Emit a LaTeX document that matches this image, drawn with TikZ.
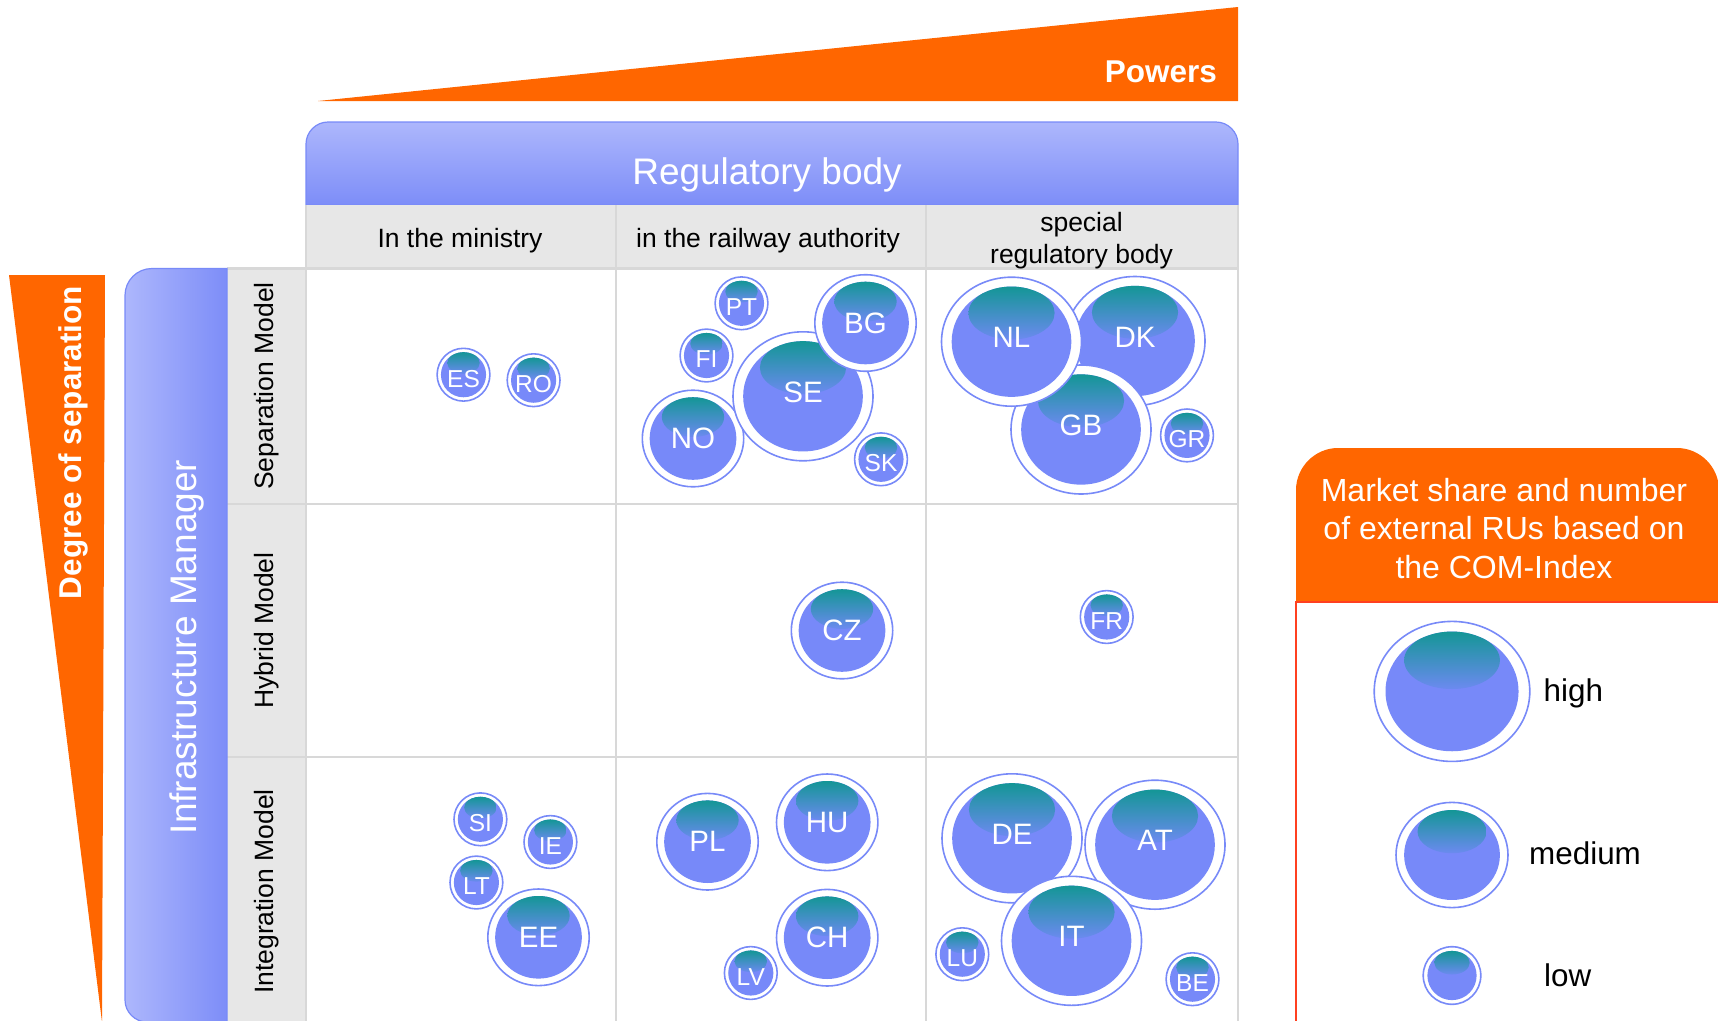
\documentclass[tikz,border=0pt]{standalone}
\usepackage{fontspec}
\setmainfont{Liberation Sans}
\usetikzlibrary{shapes.geometric}
\definecolor{orng}{RGB}{255,102,0}
\definecolor{lgred}{RGB}{255,64,32}
\definecolor{hdlight}{RGB}{173,183,252}
\definecolor{hddark}{RGB}{125,141,248}
\definecolor{bubedge}{RGB}{120,138,248}
\definecolor{bubfill}{RGB}{119,137,249}
\definecolor{tealtop}{RGB}{20,150,150}
\definecolor{hlbot}{RGB}{108,138,240}
\definecolor{cellgray}{RGB}{231,231,231}
\definecolor{gridgray}{RGB}{216,216,216}

\tikzset{
 bubring/.style={ellipse, draw=bubedge, fill=white, line width=1.6pt, inner sep=0pt, outer sep=0pt},
 biglab/.style={text=white, font=\fontsize{29.5}{30}\selectfont, inner sep=0pt, yshift=4pt},
 midlab/.style={text=white, font=\fontsize{29.5}{30}\selectfont, inner sep=0pt, yshift=0pt},
 smalllab/.style={text=white, font=\fontsize{24.5}{25}\selectfont, inner sep=0pt, yshift=-4pt},
 hdrtext/.style={text=black, font=\fontsize{26.5}{30}\selectfont, inner sep=0pt, anchor=base},
 rowtext/.style={text=black, font=\fontsize{26.5}{30}\selectfont, inner sep=0pt, rotate=90},
 titletext/.style={text=white, font=\fontsize{37}{40}\selectfont, inner sep=0pt},
 boldtext/.style={text=white, font=\bfseries\fontsize{31.5}{34}\selectfont, inner sep=0pt},
 legtext/.style={text=white, font=\fontsize{32}{38}\selectfont, inner sep=0pt},
 leglab/.style={text=black, font=\fontsize{31.4}{34}\selectfont, inner sep=0pt, anchor=base west},
 gridline/.style={draw=gridgray, line width=2.5pt},
}

\newcommand\mybubshape[5]{%
  \pgfmathsetmacro\irx{0.855*(#4)}%
  \pgfmathsetmacro\iry{0.855*(#5)}%
  \pgfmathsetmacro\hrx{0.72*\irx}%
  \pgfmathsetmacro\hry{0.48*\iry}%
  \pgfmathsetmacro\hy{(#3)-\iry+\hry}%
  \node[bubring, minimum width={2*(#4)*1pt}, minimum height={2*(#5)*1pt}] (#1) at (#2,#3) {};
  \fill[bubfill] (#2,#3) ellipse [x radius=\irx pt, y radius=\iry pt];
  \begin{scope}
    \clip (#2,#3) ellipse [x radius=\irx pt, y radius=\iry pt];
    \shade[top color=tealtop, bottom color=hlbot] (#2,\hy) ellipse [x radius=\hrx pt, y radius=\hry pt];
  \end{scope}
}
\newcommand\mybubble[7]{%
  \mybubshape{#1}{#2}{#3}{#4}{#5}%
  \node[#7] (#1-t) at (#2,#3) {#6};
}

\begin{document}
\begin{tikzpicture}[x=1pt,y=-1pt]
\useasboundingbox (0,0) rectangle (1718,1020);
\clip (0,0) rectangle (1718,1020);

% Powers
\fill[orng] (318,101) -- (1238,7) -- (1238,101) -- cycle;
\node[boldtext, anchor=base east] (powers) at (1217,82.5) {Powers};

% Degree of separation
\fill[orng] (9,275) -- (105,275) -- (102,1022) -- cycle;
\node[boldtext, rotate=90] (degree) at (73.8,442.5) {Degree of separation};

% Regulatory body header
\shadedraw[top color=hdlight, bottom color=hddark, draw=bubedge, line width=1.2pt]
 (306,205) -- (306,144) .. controls (306,132) and (316,122) .. (328,122) -- (1216,122)
 .. controls (1228,122) and (1238,132) .. (1238,144) -- (1238,205) -- cycle;
\node[titletext, anchor=base] (regbody) at (767,184) {Regulatory body};

% header cells and row header cells
\fill[cellgray] (306,205) rectangle (1238,268.5);
\fill[cellgray] (227,268.5) rectangle (306,1022);

% grid
\draw[gridline] (306,205) -- (306,1022);
\draw[gridline] (616,205) -- (616,1022);
\draw[gridline] (926,205) -- (926,1022);
\draw[gridline] (1238,205) -- (1238,1022);
\draw[gridline] (227,268.5) -- (1238,268.5);
\draw[gridline] (227,504) -- (1238,504);
\draw[gridline] (227,757) -- (1238,757);

% column headers
\node[hdrtext] (colmin) at (460,247) {In the ministry};
\node[hdrtext] (colrail) at (768,247) {in the railway authority};
\node[hdrtext] (colspec1) at (1081.5,231) {special};
\node[hdrtext] (colspec2) at (1081.5,263) {regulatory body};

% row headers
\node[rowtext] (rsep) at (267,386) {Separation Model};
\node[rowtext] (rhyb) at (267,630.5) {Hybrid Model};
\node[rowtext] (rint) at (267,891.5) {Integration Model};

% Infrastructure manager band
\shadedraw[left color=hdlight, right color=hddark, draw=bubedge, line width=1.2pt]
 (227,268.5) -- (152,268.5) .. controls (137,268.5) and (125,280.5) .. (125,295.5)
 -- (125,1000) .. controls (125,1012) and (135,1022) .. (147,1022) -- (227,1022) -- cycle;
\node[titletext, rotate=90] (infra) at (186.7,647) {Infrastructure Manager};

% sizes
\def\BX{70}\def\BY{64.5}\def\MX{50.7}\def\MY{48.3}\def\SR{26.4}

% Separation model
\mybubble{es}{463.5}{374.7}{\SR}{\SR}{ES}{smalllab}
\mybubble{ro}{533.6}{380.2}{\SR}{\SR}{RO}{smalllab}
\mybubble{pt}{741.5}{303.3}{\SR}{\SR}{PT}{smalllab}
\mybubble{fi}{706.5}{355.5}{\SR}{\SR}{FI}{smalllab}
\mybubble{no}{693}{438.5}{\MX}{\MY}{NO}{midlab}
\mybubble{se}{803}{396.3}{\BX}{\BY}{SE}{biglab}
\mybubble{bg}{865.5}{323}{\MX}{\MY}{BG}{midlab}
\mybubble{sk}{881}{459.3}{\SR}{\SR}{SK}{smalllab}
\mybubble{dk}{1135}{341}{\BX}{\BY}{DK}{biglab}
\mybubble{gb}{1081}{429.5}{\BX}{\BY}{GB}{biglab}
\mybubble{nl}{1011.5}{341.7}{\BX}{\BY}{NL}{biglab}
\mybubble{gr}{1187}{435.4}{\SR}{\SR}{GR}{smalllab}

% Hybrid model
\mybubble{cz}{842}{630.5}{\MX}{\MY}{CZ}{midlab}
\mybubble{fr}{1106.7}{617}{\SR}{\SR}{FR}{smalllab}

% Integration model
\mybubble{si}{480.4}{819.3}{\SR}{\SR}{SI}{smalllab}
\mybubble{ie}{550.4}{842}{\SR}{\SR}{IE}{smalllab}
\mybubble{lt}{476.4}{882.5}{\SR}{\SR}{LT}{smalllab}
\mybubble{ee}{538.5}{937.3}{\MX}{\MY}{EE}{midlab}
\mybubble{pl}{707.5}{841.7}{\MX}{\MY}{PL}{midlab}
\mybubble{hu}{827.2}{822.3}{\MX}{\MY}{HU}{midlab}
\mybubble{ch}{827.2}{937.7}{\MX}{\MY}{CH}{midlab}
\mybubble{lv}{750.8}{973}{\SR}{\SR}{LV}{smalllab}
\mybubble{de}{1012}{838.3}{\BX}{\BY}{DE}{biglab}
\mybubble{at}{1155}{844.7}{\BX}{\BY}{AT}{biglab}
\mybubble{it}{1071.5}{940.8}{\BX}{\BY}{IT}{biglab}
\mybubble{lu}{962.3}{954.2}{\SR}{\SR}{LU}{smalllab}
\mybubble{be}{1192.5}{979.2}{\SR}{\SR}{BE}{smalllab}

% Legend
\fill[orng] (1296,602) -- (1296,490) .. controls (1296,467) and (1315,448) .. (1338,448)
 -- (1677,448) .. controls (1700,448) and (1719,467) .. (1719,490) -- (1719,602) -- cycle;
\draw[lgred, line width=1.5pt, fill=white] (1296,602) rectangle (1730,1030);
\node[legtext] (lt1) at (1504,490) {Market share and number};
\node[legtext] (lt2) at (1504,528.5) {of external RUs based on};
\node[legtext] (lt3) at (1504,567) {the COM-Index};

\mybubshape{lhigh}{1452}{691.4}{77.8}{70}
\mybubshape{lmed}{1452}{855}{56}{52.6}
\mybubshape{llow}{1452}{975.5}{28.8}{28.8}
\node[leglab] (lhight) at (1543.5,701) {high};
\node[leglab] (lmedt) at (1529,864) {medium};
\node[leglab] (llowt) at (1544,986) {low};
\end{tikzpicture}
\end{document}
